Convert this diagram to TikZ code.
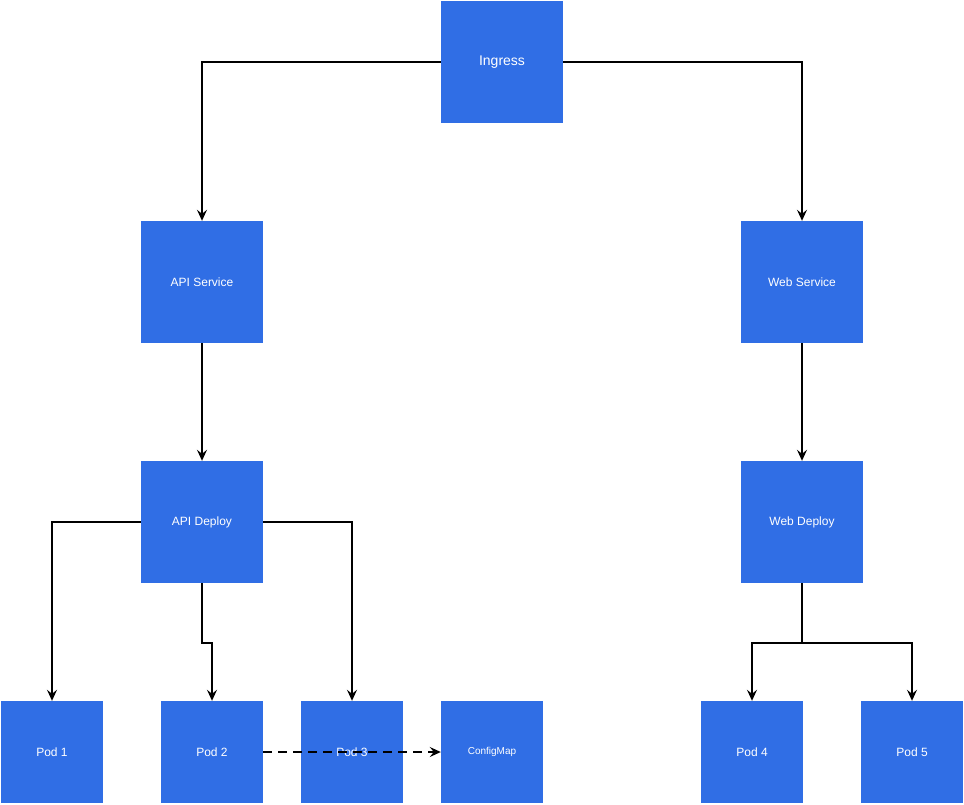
\documentclass[tikz,border=0pt]{standalone}
\usepackage{fontspec}
\setmainfont{Liberation Sans}
\usetikzlibrary{arrows.meta}
\definecolor{boxblue}{HTML}{306EE5}
\begin{document}
\begin{tikzpicture}[x=1pt, y=-1pt,
	bigbox/.style={fill=boxblue, text=white, minimum size=122pt, inner sep=0pt, font=\fontsize{12}{14}\selectfont},
	podbox/.style={fill=boxblue, text=white, minimum size=102pt, inner sep=0pt, font=\fontsize{12}{14}\selectfont},
	link/.style={line width=1.5pt, -{Stealth[length=11pt, width=10pt, inset=4pt]}}]
	\useasboundingbox (0, 0) rectangle (964, 804);
	\node[bigbox, font=\fontsize{14}{16}\selectfont] at (502, 62) (ingress) {Ingress};
	\node[bigbox] at (202, 282) (apisvc) {API Service};
	\node[bigbox] at (802, 282) (websvc) {Web Service};
	\node[bigbox] at (202, 522) (apidep) {API Deploy};
	\node[bigbox] at (802, 522) (webdep) {Web Deploy};

	\node[podbox] at (52, 752) (pod1) {Pod 1};
	\node[podbox] at (212, 752) (pod2) {Pod 2};
	\node[podbox] at (352, 752) (pod3) {Pod 3};
	\node[podbox, font=\fontsize{10}{12}\selectfont] at (492, 752) (config) {ConfigMap};
	\node[podbox] at (752, 752) (pod4) {Pod 4};
	\node[podbox] at (912, 752) (pod5) {Pod 5};

	\draw[link] (ingress.west) -| (apisvc.north);
	\draw[link] (ingress.east) -| (websvc.north);
	\draw[link] (apisvc) -- (apidep);
	\draw[link] (websvc) -- (webdep);
	\draw[link] (apidep.west) -| (pod1.north);
	\draw[link] (apidep.east) -| (pod3.north);
	\draw[link] (apidep.south) -- ++(0, 60) -| (pod2.north);
	\draw[link] (webdep.south) -- ++(0, 60) -| (pod4.north);
	\draw[link] (webdep.south) -- ++(0, 60) -| (pod5.north);
	\draw[link, dashed, dash pattern=on 9pt off 6pt] (pod2.east) -- (config.west);
\end{tikzpicture}
\end{document}
